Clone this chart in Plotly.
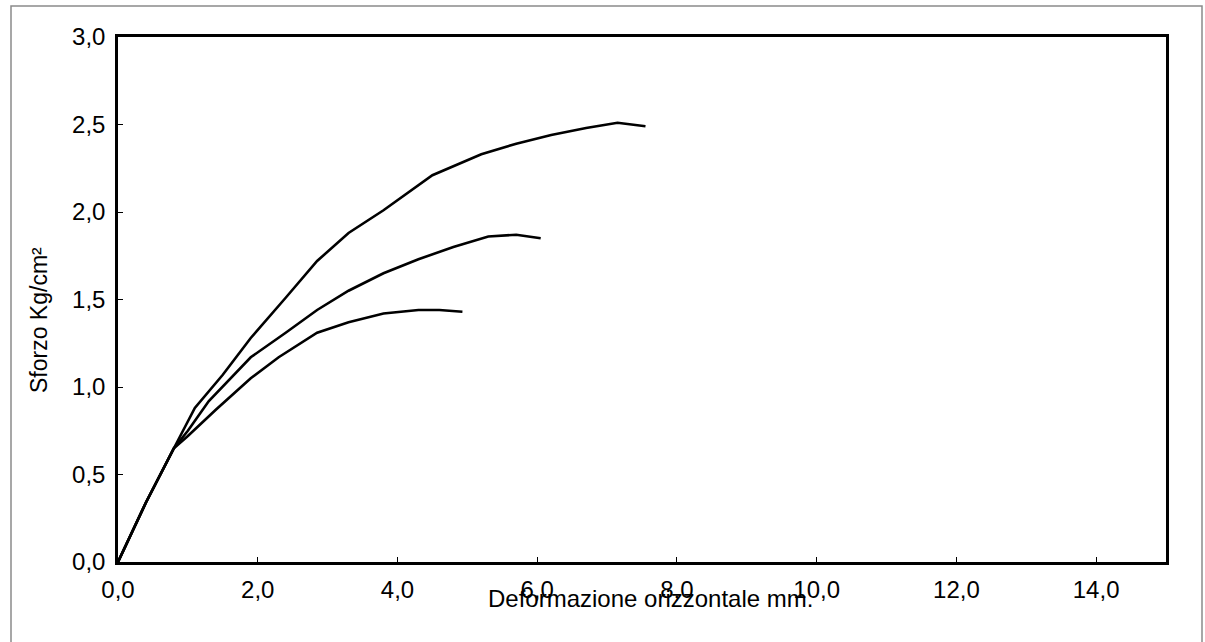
import plotly.graph_objects as go

# Stress–strain curves from horizontal shear tests (three specimens)
x_high = [0, 0.4, 0.8, 1.1, 1.5, 1.9, 2.4, 2.85, 3.3, 3.8, 4.5, 5.2, 5.7, 6.2, 6.7, 7.15, 7.55]
y_high = [0, 0.34, 0.65, 0.88, 1.07, 1.28, 1.51, 1.72, 1.88, 2.01, 2.21, 2.33, 2.39, 2.44, 2.48, 2.51, 2.49]

x_mid = [0, 0.4, 0.8, 1.0, 1.3, 1.9, 2.4, 2.85, 3.3, 3.8, 4.3, 4.8, 5.3, 5.7, 6.05]
y_mid = [0, 0.34, 0.65, 0.75, 0.92, 1.17, 1.31, 1.44, 1.55, 1.65, 1.73, 1.80, 1.86, 1.87, 1.85]

x_low = [0, 0.4, 0.8, 1.0, 1.4, 1.9, 2.3, 2.85, 3.3, 3.8, 4.3, 4.6, 4.93]
y_low = [0, 0.34, 0.65, 0.72, 0.87, 1.05, 1.17, 1.31, 1.37, 1.42, 1.44, 1.44, 1.43]

x_ticks = [0, 2, 4, 6, 8, 10, 12, 14]
y_ticks = [0, 0.5, 1.0, 1.5, 2.0, 2.5, 3.0]

W, H = 1205, 642
ML, MR, MT, MB = 118, 39, 37, 80
PW, PH = W - ML - MR, H - MT - MB


def px(xp):
    return (xp - ML) / PW


def py(yp):
    return (H - MB - yp) / PH


FONT = "Liberation Sans, Arial, sans-serif"

fig = go.Figure()
for xs, ys in [(x_high, y_high), (x_mid, y_mid), (x_low, y_low)]:
    fig.add_trace(go.Scatter(x=xs, y=ys, mode="lines",
                             line=dict(color="black", width=2.6),
                             showlegend=False, hoverinfo="skip"))

axis_common = dict(showline=True, linecolor="black", linewidth=2.5, mirror=True,
                   showgrid=False, zeroline=False, tickformat=".1f",
                   tickcolor="black", tickfont=dict(family=FONT, size=24, color="black"))

fig.update_xaxes(range=[0, 15], tickvals=x_ticks, ticks="inside", ticklen=5,
                 ticklabelstandoff=4, **axis_common)
fig.update_yaxes(range=[0, 3], tickvals=y_ticks, ticks="inside", ticklen=5,
                 ticklabelstandoff=5, **axis_common)

fig.add_annotation(text="Deformazione orizzontale mm.", xref="paper", yref="paper",
                   x=px(651), y=py(598), xanchor="center", yanchor="middle",
                   showarrow=False, font=dict(family=FONT, size=24, color="black"))
fig.add_annotation(text="Sforzo Kg/cm²", xref="paper", yref="paper",
                   x=px(39), y=py(320), xanchor="center", yanchor="middle",
                   textangle=-90, showarrow=False,
                   font=dict(family=FONT, size=23, color="black"))

# light page frame around the figure
fig.add_shape(type="rect", xref="paper", yref="paper",
              x0=px(11), y0=py(660), x1=px(1202), y1=py(6),
              line=dict(color="#8a8a8a", width=1.5), layer="below")

fig.update_layout(width=W, height=H, separators=",.",
                  margin=dict(l=ML, r=MR, t=MT, b=MB),
                  paper_bgcolor="white", plot_bgcolor="white")

fig.write_html("out.html")
